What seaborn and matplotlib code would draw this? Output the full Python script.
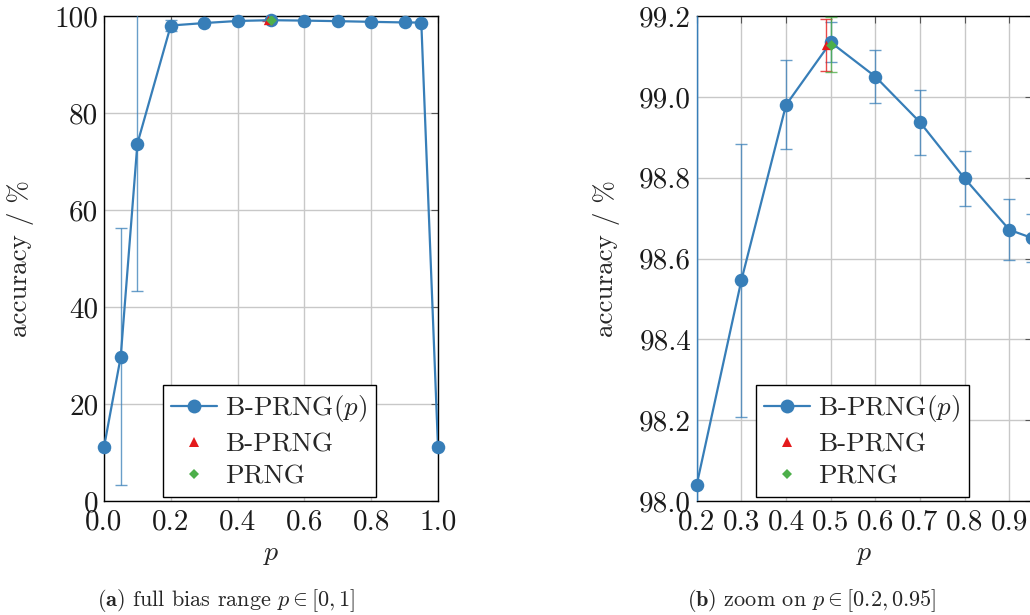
import matplotlib
matplotlib.use("Agg")
import matplotlib.pyplot as plt
import seaborn as sns
from matplotlib.lines import Line2D

# data
p_full = [0.0, 0.05, 0.1, 0.2, 0.3, 0.4, 0.5, 0.6, 0.7, 0.8, 0.9, 0.95, 1.0]
acc_full = [11.1, 29.7, 73.7, 98.04, 98.546, 98.98, 99.135, 99.05, 98.937, 98.798, 98.671, 98.651, 11.1]
err_full = [0.5, 26.5, 30.3, 1.2, 0.338, 0.11, 0.05, 0.066, 0.08, 0.067, 0.075, 0.06, 0.5]

bprng_p = [0.49]
bprng_acc = [99.128]
bprng_err = [0.065]

prng_p = [0.5]
prng_acc = [99.129]
prng_err = [0.068]

blue = "#377eb8"
red = "#e41a1c"
green = "#4daf4a"

sns.set_style("whitegrid")
plt.rcParams["font.family"] = ["cmr10", "DejaVu Serif"]
plt.rcParams["mathtext.fontset"] = "cm"
plt.rcParams["axes.formatter.use_mathtext"] = True

fig = plt.figure(figsize=(10.3, 6.15), dpi=100)
ax1 = fig.add_axes([104 / 1030, 114 / 615, 334 / 1030, 485 / 615])
ax2 = fig.add_axes([696.7 / 1030, 114 / 615, 335 / 1030, 485 / 615])


def draw(ax, xlim, ylim, xticks, yticks, fmt, ylab_x):
    ax.errorbar(p_full, acc_full, yerr=err_full, fmt="none", ecolor=blue,
                alpha=0.75, elinewidth=1.0, capsize=4, capthick=1.0, zorder=3)
    ax.errorbar(bprng_p, bprng_acc, yerr=bprng_err, fmt="none", ecolor=red,
                alpha=0.8, elinewidth=1.0, capsize=4, capthick=1.0, zorder=3)
    ax.errorbar(prng_p, prng_acc, yerr=prng_err, fmt="none", ecolor=green,
                alpha=0.8, elinewidth=1.0, capsize=4, capthick=1.0, zorder=3)
    sns.lineplot(x=p_full, y=acc_full, ax=ax, color=blue, lw=1.6, zorder=4)
    # markers drawn unclipped so the ones on the frame stay whole
    inside = [(x, y) for x, y in zip(p_full, acc_full)
              if xlim[0] <= x <= xlim[1] and ylim[0] <= y <= ylim[1]]
    pts = sns.scatterplot(x=[a for a, _ in inside], y=[b for _, b in inside], ax=ax,
                          color=blue, marker="o", s=95, linewidth=0, zorder=5)
    pts.collections[-1].set_clip_on(False)
    sns.scatterplot(x=bprng_p, y=bprng_acc, ax=ax, color=red, marker="^",
                    s=45, linewidth=0, zorder=6)
    sns.scatterplot(x=prng_p, y=prng_acc, ax=ax, color=green, marker="D",
                    s=30, linewidth=0, zorder=7)
    ax.set_xlim(*xlim)
    ax.set_ylim(*ylim)
    ax.set_xticks(xticks)
    ax.set_yticks(yticks)
    ax.set_xticklabels([fmt[0].format(v) for v in xticks])
    ax.set_yticklabels([fmt[1].format(v) for v in yticks])
    ax.grid(True, color="#c8c8c8", lw=1.0)
    for s in ax.spines.values():
        s.set_color("black")
        s.set_linewidth(1.0)
    ax.tick_params(direction="in", length=5, width=0.8, colors="#555555",
                   top=True, right=True, labelsize=21, labelcolor="#1a1a1a", pad=4)
    ax.tick_params(axis="x", pad=6)
    ax.set_xlabel("$p$", fontsize=20)
    ax.set_ylabel("accuracy / %", fontsize=19.5)
    ax.xaxis.set_label_coords(0.5, -0.082)
    ax.yaxis.set_label_coords(ylab_x, 0.5)
    handles = [
        Line2D([], [], color=blue, lw=1.6, marker="o", markersize=10, markeredgewidth=0),
        Line2D([], [], color=red, lw=0, marker="^", markersize=7.5, markeredgewidth=0),
        Line2D([], [], color=green, lw=0, marker="D", markersize=5.5, markeredgewidth=0),
    ]
    leg = ax.legend(handles, ["B-PRNG($p$)", "B-PRNG", "PRNG"], loc="lower left",
                    bbox_to_anchor=(0.177, 0.009), fontsize=19.5, fancybox=False,
                    framealpha=1, edgecolor="black", borderpad=0.3,
                    labelspacing=0.3, handlelength=1.7, handletextpad=0.3,
                    borderaxespad=0)
    leg.get_frame().set_linewidth(1.0)


draw(ax1, (0, 1), (0, 100), [0, 0.2, 0.4, 0.6, 0.8, 1.0], [0, 20, 40, 60, 80, 100],
     ("{:.1f}", "{:.0f}"), -0.21)
draw(ax2, (0.2, 0.95), (98.0, 99.2), [0.2, 0.3, 0.4, 0.5, 0.6, 0.7, 0.8, 0.9],
     [98.0, 98.2, 98.4, 98.6, 98.8, 99.0, 99.2], ("{:.1f}", "{:.1f}"), -0.229)
ax2.spines["left"].set_color(blue)

fig.text(226 / 1030, 1 - 600 / 615, r"$\mathbf{(a)}$ full bias range $p \in [0, 1]$",
         ha="center", va="center", fontsize=16)
fig.text(812 / 1030, 1 - 600 / 615, r"$\mathbf{(b)}$ zoom on $p \in [0.2, 0.95]$",
         ha="center", va="center", fontsize=16)

fig.savefig("out.png", dpi=100)
